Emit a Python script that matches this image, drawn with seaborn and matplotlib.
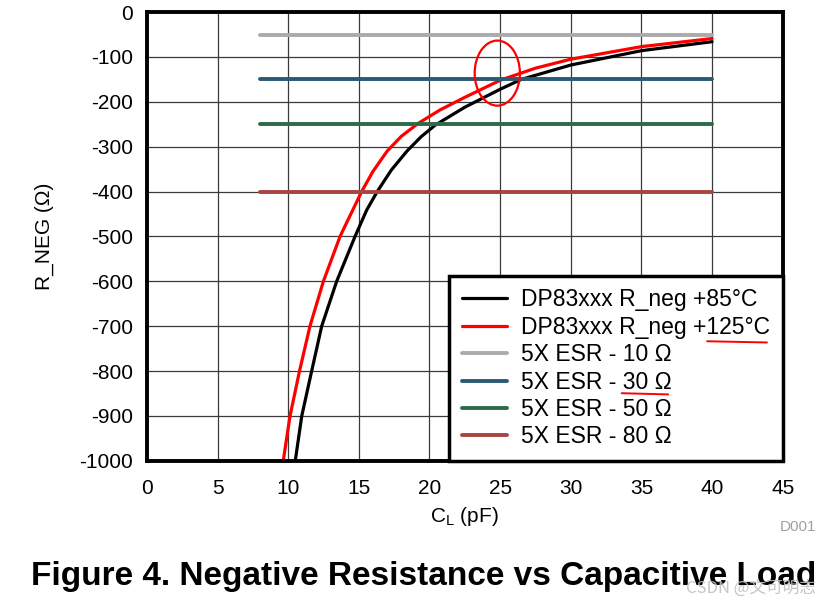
import matplotlib
matplotlib.use('Agg')
import matplotlib.pyplot as plt
from matplotlib.patches import Ellipse
import seaborn as sns
import numpy as np
import pandas as pd

# DP83xxx negative resistance curves
cl_85 = [10.5, 10.96, 11.66, 12.37, 13.43, 14.73, 15.56, 16.3, 17.3, 18.4, 19.4, 20.4, 22.5, 25.0, 26.5, 30.0, 35.0, 40.0]
rneg_85 = [-1000, -900, -800, -700, -600, -500, -441, -400, -352, -310, -278, -252, -212, -172, -150, -118, -86, -66]
cl_125 = [9.65, 10.13, 10.8, 11.54, 12.49, 13.67, 14.57, 15.2, 16.0, 17.0, 18.0, 19.2, 20.75, 22.5, 25.0, 27.5, 30.0, 35.0, 40.0]
rneg_125 = [-1000, -900, -800, -700, -600, -500, -441, -400, -355, -310, -277, -248, -218, -190, -152, -125, -105, -77, -59]

# 5X ESR reference lines
esr_labels = ['5X ESR - 10 \u03a9', '5X ESR - 30 \u03a9', '5X ESR - 50 \u03a9', '5X ESR - 80 \u03a9']
esr_values = [-50, -150, -250, -400]
esr_range = [8, 40]
esr_colors = ['#ABABAB', '#2A5A74', '#2C6A4A', '#A94442']

sns.set_style('white')
plt.rcParams['font.family'] = ['Liberation Sans', 'DejaVu Sans']
plt.rcParams['axes.unicode_minus'] = False
plt.rcParams['text.color'] = 'black'
plt.rcParams['axes.labelcolor'] = 'black'

fig = plt.figure(figsize=(8.3, 6.04), dpi=100)
ax = fig.add_axes([0.177, 0.237, 0.766, 0.743])

df85 = pd.DataFrame({'cl': cl_85, 'r': rneg_85})
df125 = pd.DataFrame({'cl': cl_125, 'r': rneg_125})
sns.lineplot(data=df85, x='cl', y='r', ax=ax, color='black', lw=2.3,
             label='DP83xxx R_neg +85\u00b0C', sort=False, solid_joinstyle='round')
sns.lineplot(data=df125, x='cl', y='r', ax=ax, color='#FF0000', lw=2.3,
             label='DP83xxx R_neg +125\u00b0C', sort=False, solid_joinstyle='round')
for lab, val, c in zip(esr_labels, esr_values, esr_colors):
    d = pd.DataFrame({'cl': esr_range, 'r': [val, val]})
    sns.lineplot(data=d, x='cl', y='r', ax=ax, color=c, lw=2.8, label=lab)

ax.set_xlim(0, 45)
ax.set_ylim(-1000, 0)
ax.set_xticks(np.arange(0, 46, 5))
ax.set_yticks(np.arange(-1000, 1, 100))
ax.grid(True, color='#3a3a3a', lw=0.9)
ax.set_axisbelow(True)
for s in ax.spines.values():
    s.set_visible(True)
    s.set_color('black')
    s.set_linewidth(2.8)
ax.tick_params(axis='both', length=0, labelsize=15, colors='black')
ax.tick_params(axis='y', pad=10)
ax.tick_params(axis='x', pad=13)
ax.set_xlabel(r'C$_\mathregular{L}$ (pF)', fontsize=15, labelpad=5)
ax.set_ylabel('R_NEG (\u03a9)', fontsize=15, labelpad=18)

leg = ax.legend(loc='lower right', fontsize=16.5, frameon=True, fancybox=False,
                borderaxespad=0, handlelength=2.0, labelspacing=0.19,
                borderpad=0.55, handletextpad=0.6)
leg.get_frame().set_edgecolor('black')
leg.get_frame().set_linewidth(2.5)
leg.get_frame().set_alpha(1)

# hand-drawn red marks
ax.add_patch(Ellipse((24.8, -136), 3.2, 145, fill=False, ec='#FF0000', lw=1.6, zorder=5))
fig.add_artist(plt.Line2D([0.852, 0.924], [0.435, 0.433], color='#FF0000', lw=1.4))
fig.add_artist(plt.Line2D([0.749, 0.805], [0.349, 0.347], color='#FF0000', lw=1.4))

fig.text(0.984, 0.128, 'D001', color='#A0A0A0', fontsize=11, ha='right', va='center')
fig.text(0.037, 0.045, 'Figure 4. Negative Resistance vs Capacitive Load',
         family=['Liberation Sans Narrow', 'Liberation Sans'], fontweight='bold',
         fontsize=24, ha='left', va='center')
fig.text(0.983, 0.027, 'CSDN @\u6587\u53ef\u660e\u5fd7', color='#C0C0C0', fontsize=12,
         family=['Noto Sans CJK SC', 'DejaVu Sans'], ha='right', va='center', alpha=0.9)

fig.savefig('out.png', dpi=100)
